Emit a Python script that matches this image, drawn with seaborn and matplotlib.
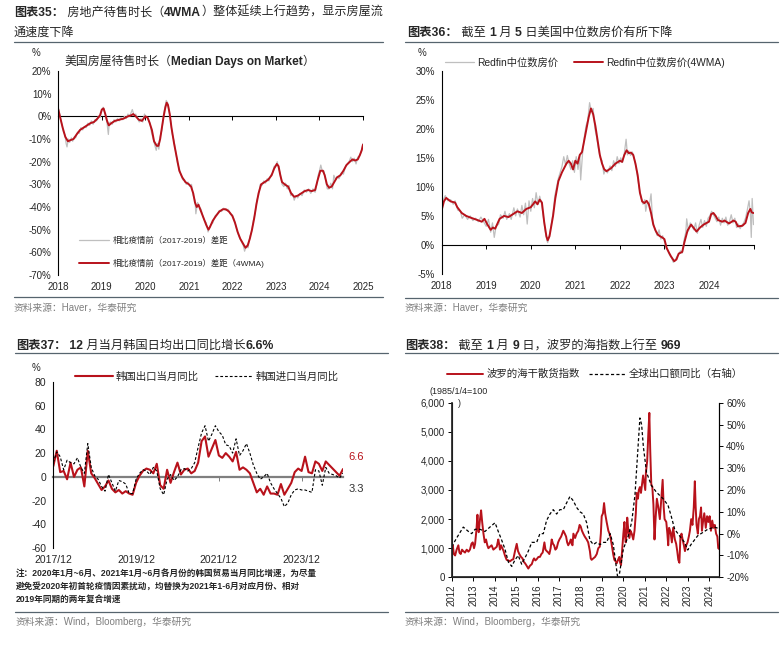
import numpy as np
import pandas as pd
import matplotlib
matplotlib.use("Agg")
import matplotlib.pyplot as plt
from matplotlib.lines import Line2D
import seaborn as sns

# ---- data ----
# chart 35: median days on market vs 2017-2019, in %
dom_4wma = [(2018.00, 3), (2018.05, -1), (2018.10, -5), (2018.16, -9), (2018.22, -11), (2018.28, -10.5),
            (2018.35, -10), (2018.42, -8), (2018.50, -6), (2018.58, -5), (2018.66, -4), (2018.74, -3),
            (2018.82, -2.5), (2018.90, -1), (2018.96, 0.5), (2019.00, 3), (2019.04, 3.5), (2019.08, 1),
            (2019.12, -2), (2019.16, -4), (2019.22, -3), (2019.30, -2), (2019.40, -1.5), (2019.50, -1),
            (2019.60, 0), (2019.68, 0.5), (2019.72, 1), (2019.78, 0), (2019.85, -1.5), (2019.92, -2),
            (2020.00, 0), (2020.05, -0.5), (2020.10, -3), (2020.15, -6), (2020.20, -11), (2020.26, -13),
            (2020.30, -13), (2020.34, -10), (2020.38, -5), (2020.42, 0), (2020.46, 4), (2020.49, 6),
            (2020.52, 5), (2020.56, 1), (2020.60, -5), (2020.66, -12), (2020.72, -18), (2020.78, -24),
            (2020.85, -27), (2020.92, -29), (2021.00, -30), (2021.05, -31), (2021.10, -34), (2021.14, -38),
            (2021.18, -40), (2021.22, -39), (2021.28, -42), (2021.34, -45), (2021.40, -48), (2021.45, -50),
            (2021.48, -49), (2021.55, -46), (2021.62, -44), (2021.70, -42), (2021.78, -41), (2021.85, -41),
            (2021.92, -42), (2022.00, -44), (2022.06, -47), (2022.12, -51), (2022.18, -54), (2022.24, -56),
            (2022.30, -58), (2022.35, -57), (2022.40, -54), (2022.45, -50), (2022.50, -45), (2022.55, -39),
            (2022.60, -34), (2022.66, -30), (2022.74, -29), (2022.82, -28), (2022.90, -26), (2022.96, -23),
            (2023.02, -21), (2023.06, -22), (2023.10, -26), (2023.14, -29), (2023.20, -30), (2023.28, -31),
            (2023.35, -34), (2023.42, -35.5), (2023.50, -35), (2023.58, -34), (2023.66, -33), (2023.74, -32.5),
            (2023.82, -33), (2023.90, -32.5), (2023.96, -28), (2024.02, -24), (2024.08, -24), (2024.12, -26),
            (2024.17, -30), (2024.22, -31.5), (2024.28, -31), (2024.34, -29), (2024.40, -27), (2024.48, -26),
            (2024.55, -24), (2024.62, -21.5), (2024.70, -20), (2024.76, -19), (2024.82, -19.5), (2024.88, -19),
            (2024.93, -17), (2024.97, -15), (2025.00, -12.5)]
dom_raw = [(2018.00, 4), (2018.03, 1), (2018.06, -2), (2018.09, -4), (2018.12, -7), (2018.15, -8), (2018.18, -12),
           (2018.20, -13.5), (2018.23, -10), (2018.26, -11.5), (2018.30, -9.5), (2018.33, -11), (2018.37, -9),
           (2018.40, -9.5), (2018.44, -7), (2018.48, -7.5), (2018.52, -5), (2018.56, -6), (2018.60, -4.5),
           (2018.64, -5), (2018.68, -3), (2018.72, -4), (2018.76, -2), (2018.80, -3.5), (2018.84, -1.5),
           (2018.88, -2), (2018.92, 0), (2018.96, -0.5), (2019.00, 2.5), (2019.03, 4), (2019.06, 2), (2019.09, 0),
           (2019.12, -3), (2019.15, -8), (2019.17, -3), (2019.20, -2.5), (2019.24, -3.5), (2019.28, -1.5),
           (2019.32, -2.5), (2019.36, -1), (2019.40, -2), (2019.44, -0.5), (2019.48, -1.5), (2019.52, 0),
           (2019.56, -1), (2019.60, 1), (2019.64, 0), (2019.68, 2), (2019.70, 3), (2019.74, 0.5), (2019.78, 1),
           (2019.82, -1), (2019.86, -2.5), (2019.90, -1), (2019.94, -2.5), (2019.98, 1), (2020.02, -0.5),
           (2020.06, -1), (2020.10, -2.5), (2020.14, -7), (2020.18, -10), (2020.22, -13), (2020.25, -15),
           (2020.28, -12), (2020.31, -14.5), (2020.34, -9), (2020.38, -6), (2020.42, 1), (2020.46, 5),
           (2020.48, 7), (2020.51, 6), (2020.54, 3), (2020.58, -2), (2020.62, -8), (2020.66, -11), (2020.70, -16),
           (2020.74, -21), (2020.78, -23), (2020.82, -26), (2020.86, -28), (2020.90, -28), (2020.94, -30),
           (2020.98, -29), (2021.02, -31), (2021.06, -30), (2021.10, -35), (2021.14, -37), (2021.16, -43),
           (2021.20, -38), (2021.24, -40), (2021.28, -41), (2021.32, -44), (2021.36, -46), (2021.40, -47),
           (2021.44, -51), (2021.47, -49), (2021.50, -48), (2021.55, -47), (2021.60, -44), (2021.65, -43),
           (2021.70, -41.5), (2021.75, -42), (2021.80, -40.5), (2021.85, -41.5), (2021.90, -41), (2021.95, -43),
           (2022.00, -43.5), (2022.05, -46), (2022.10, -50), (2022.15, -53), (2022.20, -55), (2022.25, -57),
           (2022.28, -59.5), (2022.32, -57), (2022.36, -58), (2022.40, -53), (2022.44, -51), (2022.48, -46),
           (2022.52, -43), (2022.56, -37), (2022.60, -35), (2022.64, -30), (2022.68, -30.5), (2022.72, -28.5),
           (2022.76, -29.5), (2022.80, -27.5), (2022.84, -28.5), (2022.88, -26), (2022.92, -25), (2022.96, -22),
           (2023.00, -22), (2023.03, -20), (2023.06, -23), (2023.10, -25), (2023.14, -30), (2023.18, -31),
           (2023.22, -29.5), (2023.26, -32), (2023.30, -30.5), (2023.34, -35), (2023.38, -34), (2023.42, -37),
           (2023.46, -35), (2023.50, -36), (2023.55, -34), (2023.60, -35), (2023.65, -32.5), (2023.70, -33.5),
           (2023.75, -32), (2023.80, -34), (2023.85, -32), (2023.90, -33.5), (2023.94, -30), (2023.97, -26),
           (2024.00, -24), (2024.03, -21.5), (2024.07, -24.5), (2024.10, -24), (2024.14, -28), (2024.18, -32),
           (2024.22, -32), (2024.26, -29.5), (2024.30, -32), (2024.33, -26), (2024.37, -28), (2024.41, -26.5),
           (2024.45, -27.5), (2024.50, -25), (2024.55, -25.5), (2024.60, -22), (2024.64, -21), (2024.68, -20),
           (2024.72, -18), (2024.76, -20), (2024.80, -18.5), (2024.84, -21), (2024.88, -18), (2024.92, -17.5),
           (2024.95, -16), (2024.98, -14), (2025.00, -12)]

# chart 36: Redfin median sale price yoy, in %
price_4wma = [(2018.00, 6.0), (2018.05, 7.5), (2018.10, 8.1), (2018.20, 7.5), (2018.30, 7.3), (2018.35, 6.5),
              (2018.45, 5.5), (2018.55, 5.0), (2018.65, 4.7), (2018.80, 4.3), (2018.90, 4.0), (2018.96, 4.5),
              (2019.02, 3.6), (2019.10, 2.6), (2019.15, 3.0), (2019.20, 2.8), (2019.30, 4.5), (2019.40, 5.0),
              (2019.50, 4.8), (2019.60, 5.3), (2019.70, 5.8), (2019.80, 5.5), (2019.90, 6.2), (2020.00, 6.5),
              (2020.10, 7.5), (2020.15, 7.0), (2020.20, 7.8), (2020.25, 7.3), (2020.30, 4.0), (2020.35, 1.5),
              (2020.38, 0.8), (2020.42, 1.5), (2020.50, 5.0), (2020.55, 8.0), (2020.62, 11.0), (2020.70, 12.5),
              (2020.80, 14.0), (2020.85, 14.5), (2020.90, 14.0), (2020.95, 13.0), (2021.00, 14.5), (2021.05, 14.0),
              (2021.10, 15.5), (2021.15, 16.0), (2021.20, 18.0), (2021.25, 20.0), (2021.30, 22.0), (2021.35, 23.5),
              (2021.40, 22.5), (2021.45, 20.5), (2021.50, 18.0), (2021.55, 15.5), (2021.60, 14.0), (2021.65, 13.0),
              (2021.70, 12.7), (2021.80, 13.2), (2021.90, 14.0), (2022.00, 14.5), (2022.05, 14.3), (2022.10, 15.5),
              (2022.15, 16.3), (2022.20, 15.8), (2022.25, 15.9), (2022.30, 15.5), (2022.35, 14.0), (2022.40, 12.0),
              (2022.45, 9.0), (2022.50, 7.5), (2022.55, 7.2), (2022.60, 7.6), (2022.65, 7.0), (2022.70, 5.5),
              (2022.75, 3.5), (2022.80, 2.5), (2022.85, 1.8), (2022.90, 1.5), (2022.95, 1.3), (2023.00, 1.0),
              (2023.05, -0.5), (2023.10, -1.3), (2023.15, -2.0), (2023.22, -2.8), (2023.27, -2.5), (2023.32, -1.5),
              (2023.40, -1.2), (2023.45, 0.5), (2023.52, 2.5), (2023.60, 3.5), (2023.65, 3.0), (2023.72, 2.3),
              (2023.80, 3.0), (2023.88, 3.5), (2023.95, 3.8), (2024.00, 4.0), (2024.05, 5.3), (2024.10, 5.5),
              (2024.15, 5.0), (2024.20, 4.3), (2024.30, 4.0), (2024.35, 4.2), (2024.45, 3.7), (2024.55, 4.2),
              (2024.60, 4.0), (2024.65, 3.2), (2024.75, 3.3), (2024.82, 3.8), (2024.88, 5.5), (2024.93, 6.2),
              (2024.96, 5.6), (2025.00, 5.5)]
price_raw = [(2018.00, 6.2), (2018.04, 7.8), (2018.08, 8.5), (2018.14, 7.6), (2018.20, 7.8), (2018.26, 7.0),
             (2018.30, 7.6), (2018.36, 6.0), (2018.42, 5.8), (2018.46, 4.6), (2018.52, 5.2), (2018.58, 4.4),
             (2018.64, 5.0), (2018.70, 4.2), (2018.76, 4.6), (2018.82, 4.0), (2018.88, 4.8), (2018.94, 4.0),
             (2019.00, 3.2), (2019.05, 4.4), (2019.10, 2.2), (2019.14, 3.8), (2019.18, 1.3), (2019.22, 3.2),
             (2019.28, 3.6), (2019.32, 5.2), (2019.38, 4.6), (2019.42, 5.8), (2019.46, 4.4), (2019.52, 5.4),
             (2019.56, 4.4), (2019.62, 6.4), (2019.66, 5.0), (2019.70, 6.2), (2019.76, 4.8), (2019.80, 6.8),
             (2019.84, 5.2), (2019.88, 7.2), (2019.92, 3.6), (2019.96, 7.6), (2020.00, 5.8), (2020.04, 8.0),
             (2020.08, 6.4), (2020.12, 9.0), (2020.16, 7.0), (2020.20, 8.4), (2020.24, 7.2), (2020.28, 5.0),
             (2020.32, 2.6), (2020.36, 0.8), (2020.38, 0.4), (2020.42, 1.8), (2020.46, 3.5), (2020.50, 5.5),
             (2020.54, 8.5), (2020.58, 10.0), (2020.62, 11.5), (2020.66, 12.5), (2020.70, 13.5), (2020.74, 15.2),
             (2020.78, 13.8), (2020.82, 15.4), (2020.86, 14.0), (2020.90, 13.0), (2020.94, 14.5), (2020.98, 12.5),
             (2021.02, 15.2), (2021.06, 13.0), (2021.10, 15.4), (2021.12, 11.2), (2021.16, 15.5), (2021.20, 18.5),
             (2021.24, 20.5), (2021.28, 21.5), (2021.32, 24.5), (2021.36, 23.0), (2021.40, 23.5), (2021.44, 20.0),
             (2021.48, 18.5), (2021.52, 16.5), (2021.56, 15.0), (2021.60, 14.5), (2021.64, 12.2), (2021.68, 13.0),
             (2021.72, 12.4), (2021.78, 13.6), (2021.82, 12.8), (2021.86, 14.5), (2021.90, 13.5), (2021.94, 15.2),
             (2021.98, 14.0), (2022.02, 15.0), (2022.06, 14.2), (2022.10, 15.8), (2022.14, 18.2), (2022.17, 15.5),
             (2022.20, 16.2), (2022.24, 15.4), (2022.28, 16.0), (2022.32, 15.0), (2022.36, 13.5), (2022.40, 11.5),
             (2022.44, 9.5), (2022.48, 8.0), (2022.52, 7.0), (2022.56, 7.8), (2022.58, 5.8), (2022.62, 7.5),
             (2022.66, 6.8), (2022.70, 8.8), (2022.73, 4.8), (2022.76, 3.5), (2022.80, 2.4), (2022.84, 1.6),
             (2022.88, 2.6), (2022.92, 1.0), (2022.96, 1.6), (2023.00, 0.6), (2023.04, -0.6), (2023.08, -1.0),
             (2023.12, -1.8), (2023.16, -2.2), (2023.20, -3.0), (2023.24, -2.6), (2023.28, -2.0), (2023.32, -1.6),
             (2023.36, -1.0), (2023.40, -1.4), (2023.44, 0.8), (2023.48, 2.2), (2023.50, 4.5), (2023.54, 2.4),
             (2023.58, 3.8), (2023.62, 3.2), (2023.66, 2.6), (2023.70, 3.8), (2023.74, 2.0), (2023.78, 3.4),
             (2023.82, 4.4), (2023.86, 3.0), (2023.90, 4.2), (2023.94, 3.2), (2023.98, 4.6), (2024.02, 5.0),
             (2024.06, 5.8), (2024.10, 5.2), (2024.14, 4.6), (2024.18, 4.0), (2024.22, 4.8), (2024.26, 3.4),
             (2024.30, 4.6), (2024.34, 3.8), (2024.38, 4.8), (2024.42, 3.4), (2024.46, 4.0), (2024.50, 5.2),
             (2024.54, 3.8), (2024.58, 4.6), (2024.62, 3.0), (2024.66, 3.6), (2024.70, 2.8), (2024.74, 3.4),
             (2024.78, 3.8), (2024.82, 4.6), (2024.86, 6.0), (2024.90, 7.6), (2024.93, 5.4), (2024.95, 1.3),
             (2024.97, 8.0), (2024.99, 5.2), (2025.00, 3.5)]

# chart 37: Korea trade yoy, monthly 2017/12 - 2024/12
kr_months = pd.period_range("2017-12", "2024-12", freq="M")
kr_export = [9,
             22, 4, 5, -2, 12, 0, 6, 8, -8, 22, 3, -1,
             -6, -11, -8, -3, -10, -13, -11, -14, -12, -14, -15, -5,
             1, 5, 7, 6, 3, 11, -7, -10, 6, -5, 4, 12,
             2, 6, 7, 3, 5, 12, 30, 34, 17, 24, 31, 18,
             16, 20, 17, 13, 21, 6, 8, 6, 3, -5, -13, -10,
             -15, -8, -14, -14, -15, -6, -15, -10, -5, 4, 7, 5,
             17, 4, 3, 13, 11, 5, 13, 10, 7, 4, 1, 6.6]
kr_import = [12,
             21, 17, 6, 14, 12, 11, 16, 8, 3, 28, 8, 1,
             -2, -8, -12, 2, -5, -12, -3, -4, -6, -14, -14, -2,
             3, 6, 5, 2, 8, 5, -10, -15, -2, 2, -3, 0,
             6, 7, 5, 7, 12, 25, 37, 43, 30, 36, 43, 38,
             35, 27, 26, 20, 32, 18, 22, 28, 20, 10, 3, -2,
             0, 3, -5, -10, -14, -18, -25, -22, -15, -11, -10, -11,
             -11, -12, -13, 6, 5, -7, 8, 3, 2, 1, -1, 3.3]

# chart 38: Baltic Dry Index (left) and global export yoy % (right)
bdi = [(2012.00, 1000), (2012.05, 1100), (2012.10, 800), (2012.16, 750), (2012.23, 950), (2012.31, 1100),
       (2012.36, 850), (2012.42, 800), (2012.48, 950), (2012.54, 900), (2012.62, 850), (2012.70, 950),
       (2012.78, 880), (2012.85, 950), (2012.92, 1150), (2012.98, 1200), (2013.04, 1000), (2013.09, 1150),
       (2013.15, 1600), (2013.20, 2150), (2013.23, 1700), (2013.26, 1550), (2013.32, 2000), (2013.37, 2300),
       (2013.42, 1900), (2013.48, 1500), (2013.54, 1200), (2013.60, 1300), (2013.66, 1100), (2013.71, 1000),
       (2013.78, 1050), (2013.86, 1100), (2013.94, 950), (2014.02, 1000), (2014.10, 1050), (2014.17, 1300),
       (2014.21, 1150), (2014.25, 950), (2014.30, 1100), (2014.36, 1000), (2014.42, 900), (2014.48, 750),
       (2014.56, 600), (2014.64, 580), (2014.72, 550), (2014.80, 600), (2014.87, 620), (2014.95, 900),
       (2015.03, 1150), (2015.09, 900), (2015.15, 800), (2015.23, 700), (2015.30, 650), (2015.34, 550),
       (2015.42, 480), (2015.49, 400), (2015.57, 300), (2015.65, 400), (2015.73, 450), (2015.80, 600),
       (2015.84, 650), (2015.90, 580), (2015.96, 620), (2016.04, 700), (2016.11, 700), (2016.18, 800),
       (2016.24, 850), (2016.32, 1200), (2016.37, 950), (2016.43, 900), (2016.50, 850), (2016.55, 800),
       (2016.61, 1000), (2016.66, 1300), (2016.72, 1150), (2016.77, 1100), (2016.83, 950), (2016.89, 1000),
       (2016.96, 1200), (2017.02, 1300), (2017.10, 1400), (2017.20, 1600), (2017.27, 1500), (2017.33, 1400),
       (2017.38, 1200), (2017.43, 1100), (2017.50, 1200), (2017.55, 1300), (2017.59, 1150), (2017.63, 1100),
       (2017.67, 1500), (2017.75, 1350), (2017.82, 1500), (2017.90, 1600), (2017.96, 1800), (2018.01, 1750),
       (2018.07, 1600), (2018.13, 1500), (2018.20, 1400), (2018.29, 1300), (2018.36, 1200), (2018.44, 900),
       (2018.48, 650), (2018.52, 600), (2018.60, 650), (2018.68, 700), (2018.76, 800), (2018.83, 1000),
       (2018.90, 1050), (2018.95, 1500), (2018.99, 2100), (2019.05, 2200), (2019.10, 2550), (2019.15, 2200),
       (2019.22, 1900), (2019.30, 1600), (2019.38, 1450), (2019.45, 1150), (2019.53, 780), (2019.58, 600),
       (2019.64, 550), (2019.69, 480), (2019.75, 600), (2019.81, 700), (2019.85, 500), (2019.89, 420),
       (2019.95, 1000), (2020.00, 1500), (2020.05, 1900), (2020.08, 1400), (2020.11, 1200), (2020.15, 1500),
       (2020.18, 2050), (2020.23, 1600), (2020.28, 1350), (2020.33, 1600), (2020.39, 1500), (2020.46, 1300),
       (2020.52, 1600), (2020.58, 2200), (2020.62, 2900), (2020.68, 2700), (2020.72, 3000), (2020.77, 3100),
       (2020.82, 2900), (2020.87, 3200), (2020.92, 3500), (2020.96, 3300), (2021.02, 3000), (2021.05, 3600),
       (2021.11, 4000), (2021.16, 4900), (2021.21, 5650), (2021.25, 4400), (2021.30, 3200), (2021.35, 3100),
       (2021.40, 2500), (2021.45, 1300), (2021.50, 2000), (2021.56, 2700), (2021.63, 2400), (2021.70, 2000),
       (2021.78, 2800), (2021.83, 3350), (2021.88, 2400), (2021.92, 2000), (2022.00, 1900), (2022.05, 1500),
       (2022.09, 1100), (2022.13, 1700), (2022.20, 1550), (2022.26, 1200), (2022.32, 1700), (2022.40, 1300),
       (2022.46, 1150), (2022.51, 900), (2022.56, 600), (2022.61, 500), (2022.66, 1400), (2022.71, 1500),
       (2022.76, 1300), (2022.82, 1100), (2022.87, 900), (2022.93, 1100), (2022.99, 1200), (2023.05, 1400),
       (2023.10, 1600), (2023.16, 2000), (2023.22, 1800), (2023.28, 2400), (2023.33, 3300), (2023.37, 2400),
       (2023.41, 1800), (2023.47, 1500), (2023.52, 2000), (2023.57, 2100), (2023.62, 2400), (2023.66, 1600),
       (2023.71, 1900), (2023.77, 2200), (2023.84, 1700), (2023.90, 2100), (2023.96, 1900), (2024.02, 2100),
       (2024.08, 1600), (2024.14, 1950), (2024.20, 1700), (2024.26, 1800), (2024.32, 1500), (2024.38, 1400),
       (2024.42, 1000), (2024.47, 969)]
world_export = [(2012.00, -6), (2012.23, -2), (2012.54, 3), (2012.78, 1), (2012.93, 0), (2013.09, 2),
                (2013.32, 2), (2013.55, 1), (2013.78, 3), (2014.02, 5), (2014.17, 1), (2014.33, -3),
                (2014.48, -7), (2014.64, -13), (2014.80, -15), (2014.95, -12), (2015.10, -10), (2015.26, -14),
                (2015.42, -11), (2015.57, -8), (2015.73, -4), (2015.96, -4), (2016.11, 0), (2016.27, 0),
                (2016.42, 6), (2016.58, 9), (2016.73, 11), (2016.89, 9), (2017.04, 11), (2017.20, 11),
                (2017.35, 14), (2017.51, 17), (2017.67, 15), (2017.82, 12), (2017.98, 10), (2018.13, 9),
                (2018.29, 5), (2018.44, -3), (2018.60, -5), (2018.75, -4), (2018.91, -5), (2019.07, -4),
                (2019.22, -4), (2019.38, 0), (2019.53, -5), (2019.76, -22), (2020.00, -7), (2020.23, -1),
                (2020.39, 5.5), (2020.54, 17.7), (2020.77, 53), (2020.85, 50), (2020.93, 40), (2021.08, 28),
                (2021.31, 22), (2021.54, 19), (2021.85, 16), (2022.08, 13), (2022.23, 8), (2022.39, 2),
                (2022.62, -1), (2022.85, -4), (2023.00, -7.5), (2023.15, -5), (2023.46, -1), (2023.93, 2),
                (2024.25, 3), (2024.40, 2.5)]

# ---- style ----
RED = "#B8121B"
GREY = "#BFBFBF"
RULE = "#56646E"
SRC = "#7F7F7F"
W, H = 781, 646

sns.set_theme(style="white")
plt.rcParams["font.family"] = ["Liberation Sans", "Noto Sans CJK SC", "DejaVu Sans"]
plt.rcParams["axes.unicode_minus"] = False

fig = plt.figure(figsize=(W / 100, H / 100), dpi=100)


def box(l, t, r, b):
    return [l / W, 1 - b / H, (r - l) / W, (b - t) / H]


def ftext(x, y, s, **kw):
    kw.setdefault("va", "center")
    return fig.text(x / W, 1 - y / H, s, **kw)


def rule(x0, x1, y):
    fig.add_artist(Line2D([x0 / W, x1 / W], [1 - y / H] * 2, transform=fig.transFigure, color=RULE, lw=0.9))


def rich(x, y, parts, size):
    # consecutive pieces of text, bold where the reference is bold
    renderer = fig.canvas.get_renderer()
    cur = x
    for s, w in parts:
        t = ftext(cur, y, s, fontsize=size, fontweight=w, ha="left")
        cur += t.get_window_extent(renderer).width


def base_axes(ax, lw=0.8):
    for s in ["top", "right", "bottom"]:
        ax.spines[s].set_visible(False)
    ax.spines["left"].set_color("black")
    ax.spines["left"].set_linewidth(lw)
    ax.tick_params(axis="y", direction="out", length=2.5, width=0.7, color="black", pad=2.5, labelsize=7)
    ax.tick_params(axis="x", length=0, pad=5, labelsize=7)
    ax.set_xlabel("")
    ax.set_ylabel("")


def zero_axis(ax, loc, ticks, color="black", lw=0.8):
    sec = ax.secondary_xaxis(loc)
    sec.set_alignment("bottom")
    sec.spines["bottom"].set_color(color)
    sec.spines["bottom"].set_linewidth(lw)
    sec.set_xticks(ticks)
    sec.tick_params(axis="x", direction="out", length=3, width=0.7, color=color, labelbottom=False)
    return sec


B, N = "bold", "normal"

# ================= chart 35 =================
rich(14, 13, [("图表35：", B), (" 房地产待售时长（", N), ("4WMA", B), ("）整体延续上行趋势，显示房屋流", N)], 8.7)
rich(14, 33, [("通速度下降", N)], 8.7)
rule(14, 383, 42)
ax1 = fig.add_axes(box(58.3, 71, 363, 275))
t, v = zip(*dom_raw)
sns.lineplot(x=list(t), y=list(v), ax=ax1, color=GREY, lw=0.9, legend=False, label="相比疫情前（2017-2019）差距")
t, v = zip(*dom_4wma)
sns.lineplot(x=list(t), y=list(v), ax=ax1, color=RED, lw=1.4, legend=False,
             label="相比疫情前（2017-2019）差距（4WMA)")
ax1.set_xlim(2018, 2025)
ax1.set_ylim(-70, 20)
ax1.set_yticks(range(-70, 21, 10))
ax1.set_yticklabels([f"{y}%" for y in range(-70, 21, 10)])
ax1.set_xticks(range(2018, 2026))
ax1.set_xticklabels([str(y) for y in range(2018, 2026)])
base_axes(ax1)
zero_axis(ax1, 70 / 90, range(2019, 2026))
ax1.legend(loc="center left", bbox_to_anchor=(79 / W, 1 - 252.5 / H), bbox_transform=fig.transFigure,
           frameon=False, fontsize=6, handlelength=3.6, handletextpad=0.5, labelspacing=1.6,
           borderpad=0, borderaxespad=0)
ftext(32, 53, "%", fontsize=7)
rich(64, 62, [("美国房屋待售时长（", N), ("Median Days on Market", B), ("）", N)], 8.6)
rule(14, 383, 297)
ftext(14, 308, "资料来源：Haver，华泰研究", fontsize=7, color=SRC)

# ================= chart 36 =================
rich(407, 33, [("图表36：", B), (" 截至 ", N), ("1", B), (" 月 ", N), ("5", B), (" 日美国中位数房价有所下降", N)], 8.8)
rule(405, 778, 42)
ax2 = fig.add_axes(box(441.7, 70.7, 753.5, 274))
t, v = zip(*price_raw)
sns.lineplot(x=list(t), y=list(v), ax=ax2, color=GREY, lw=0.9, legend=False, label="Redfin中位数房价")
t, v = zip(*price_4wma)
sns.lineplot(x=list(t), y=list(v), ax=ax2, color=RED, lw=1.4, legend=False, label="Redfin中位数房价(4WMA)")
ax2.set_xlim(2018, 2025)
ax2.set_ylim(-5, 30)
ax2.set_yticks(range(-5, 31, 5))
ax2.set_yticklabels([f"{y}%" for y in range(-5, 31, 5)])
ax2.set_xticks(range(2018, 2025))
ax2.set_xticklabels([str(y) for y in range(2018, 2025)])
base_axes(ax2)
zero_axis(ax2, 5 / 35, range(2019, 2026))
ax2.legend(loc="center left", bbox_to_anchor=(445 / W, 1 - 62 / H), bbox_transform=fig.transFigure,
           frameon=False, fontsize=7.4, ncol=2, handlelength=2.8, handletextpad=0.3, columnspacing=1.6,
           borderpad=0, borderaxespad=0)
ftext(418, 53, "%", fontsize=7)
rule(405, 778, 298)
ftext(405, 308, "资料来源：Haver，华泰研究", fontsize=7, color=SRC)

# ================= chart 37 =================
rich(16, 346, [("图表37：", B), (" 12", B), (" 月当月韩国日均出口同比增长", N), ("6.6%", B)], 8.8)
rule(15, 388, 353)
ax3 = fig.add_axes(box(53.3, 381.7, 343, 548.3))
xs = np.arange(len(kr_months))
sns.lineplot(x=xs, y=kr_export, ax=ax3, color=RED, lw=1.5, legend=False, label="韩国出口当月同比")
sns.lineplot(x=xs, y=kr_import, ax=ax3, color="black", lw=0.8, legend=False, label="韩国进口当月同比",
             linestyle=(0, (2.5, 1.8)))
ax3.set_xlim(0, len(kr_months) - 1)
ax3.set_ylim(-60, 80)
ax3.set_yticks(range(-60, 81, 20))
tick_idx = list(range(0, len(kr_months), 24))
ax3.set_xticks(tick_idx)
ax3.set_xticklabels([kr_months[i].strftime("%Y/%m") for i in tick_idx])
base_axes(ax3)
ax3.tick_params(axis="y", labelsize=7.5)
ax3.tick_params(axis="x", labelsize=7.5)
zero_axis(ax3, 60 / 140, tick_idx, color="#7F7F7F", lw=1.6)
ax3.annotate(f"{kr_export[-1]}", xy=(xs[-1], kr_export[-1]), xytext=(4, 5), textcoords="offset points",
             ha="left", va="bottom", fontsize=8, color=RED)
ax3.annotate(f"{kr_import[-1]}", xy=(xs[-1], kr_import[-1]), xytext=(4, -8), textcoords="offset points",
             ha="left", va="top", fontsize=8, color="#333333")
ax3.legend(loc="center left", bbox_to_anchor=(75 / W, 1 - 377 / H), bbox_transform=fig.transFigure,
           frameon=False, fontsize=7.5, ncol=2, handlelength=3.6, handletextpad=0.3, columnspacing=1.6,
           borderpad=0, borderaxespad=0)
ftext(32, 368, "%", fontsize=7)
note = ["注：2020年1月~6月、2021年1月~6月各月份的韩国贸易当月同比增速，为尽量",
        "避免受2020年初首轮疫情因素扰动，均替换为2021年1-6月对应月份、相对",
        "2019年同期的两年复合增速"]
for i, line in enumerate(note):
    ftext(16, 574 + i * 12.5, line, fontsize=6.2, fontweight="bold")
rule(15, 388, 612)
ftext(16, 622, "资料来源：Wind，Bloomberg，华泰研究", fontsize=7, color=SRC)

# ================= chart 38 =================
rich(405, 346, [("图表38：", B), (" 截至 ", N), ("1", B), (" 月 ", N), ("9", B),
                (" 日，波罗的海指数上行至 ", N), ("969", B)], 8.8)
rule(405, 778, 353)
ax4 = fig.add_axes(box(451.7, 402.7, 719.3, 577.3))
t, v = zip(*bdi)
sns.lineplot(x=list(t), y=list(v), ax=ax4, color=RED, lw=1.4, legend=False, label="波罗的海干散货指数")
ax4.set_xlim(2012, 2024.47)
ax4.set_ylim(0, 6000)
ax4.set_yticks(range(0, 6001, 1000))
ax4.set_yticklabels([f"{y:,}" for y in range(0, 6001, 1000)])
ax4.set_xticks(range(2012, 2025))
ax4.set_xticklabels([str(y) for y in range(2012, 2025)], rotation=90)
ax4.spines["top"].set_visible(False)
for s in ["left", "bottom", "right"]:
    ax4.spines[s].set_color("black")
    ax4.spines[s].set_linewidth(0.8)
ax4.tick_params(axis="both", direction="out", length=3, width=0.7, color="black", labelsize=7, pad=2)
ax4.tick_params(axis="x", bottom=True)
ax4.tick_params(axis="y", left=True)
ax4.set_xlabel("")
ax4.set_ylabel("")
ax4r = ax4.twinx()
t, v = zip(*world_export)
sns.lineplot(x=list(t), y=list(v), ax=ax4r, color="black", lw=0.9, legend=False, label="全球出口额同比（右轴）",
             linestyle=(0, (2.5, 1.8)))
ax4r.set_ylim(-20, 60)
ax4r.set_yticks(range(-20, 61, 10))
ax4r.set_yticklabels([f"{y}%" for y in range(-20, 61, 10)])
ax4r.spines["top"].set_visible(False)
ax4r.spines["right"].set_color("black")
ax4r.spines["right"].set_linewidth(0.8)
ax4r.tick_params(axis="y", direction="out", length=3, width=0.7, color="black", labelsize=7, pad=2, right=True)
ax4r.set_ylabel("")
ax4r.grid(False)
handles = [ax4.lines[0], ax4r.lines[0]]
fig.legend(handles, [h.get_label() for h in handles], loc="center left",
           bbox_to_anchor=(447 / W, 1 - 374 / H), frameon=False, fontsize=7.5, ncol=2, handlelength=3.5,
           handletextpad=0.3, columnspacing=0.9, borderpad=0, borderaxespad=0)
ftext(429, 392, "(1985/1/4=100", fontsize=6.5)
ftext(458, 403, ")", fontsize=6.5)
rule(405, 778, 612)
ftext(405, 622, "资料来源：Wind，Bloomberg，华泰研究", fontsize=7, color=SRC)

fig.savefig("out.png", dpi=100)
